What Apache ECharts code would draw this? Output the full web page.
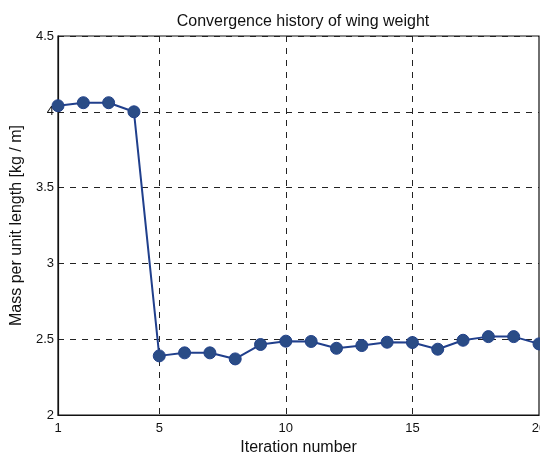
<!DOCTYPE html>
<html>
<head>
<meta charset="utf-8">
<script src="https://cdn.jsdelivr.net/npm/echarts@6/dist/echarts.min.js"></script>
<style>
  html, body { margin: 0; padding: 0; background: #fff; }
  #chart { width: 540px; height: 457px; }
</style>
</head>
<body>
<div id="chart"></div>
<script>
// Iteration numbers and wing mass per unit length at each iteration
const iterations = ['1','2','3','4','5','6','7','8','9','10','11','12','13','14','15','16','17','18','19','20'];
const massPerLength = [4.04, 4.06, 4.06, 4.00, 2.39, 2.41, 2.41, 2.37, 2.465, 2.487, 2.485, 2.44, 2.458, 2.48, 2.478, 2.434, 2.493, 2.517, 2.517, 2.469];
const xTickLabels = ['1', '5', '10', '15', '20'];

const font = 'Liberation Sans, Arial, sans-serif';
const chart = echarts.init(document.getElementById('chart'), null, { renderer: 'canvas' });

chart.setOption({
  animation: false,
  backgroundColor: '#ffffff',
  title: {
    text: 'Convergence history of wing weight',
    left: 298,
    textAlign: 'center',
    top: 9,
    textStyle: { fontFamily: font, fontSize: 16, fontWeight: 'normal', color: '#111' }
  },
  grid: {
    left: 58, right: 1, top: 36, bottom: 42,
    outerBoundsMode: 'none',
    containLabel: false,
    show: true, borderColor: '#111', borderWidth: 1.2, backgroundColor: 'transparent'
  },
  xAxis: {
    type: 'category',
    data: iterations,
    boundaryGap: false,
    name: 'Iteration number',
    nameLocation: 'middle',
    nameGap: 21,
    nameTextStyle: { fontFamily: font, fontSize: 16, color: '#111' },
    axisLine: { show: true, lineStyle: { color: '#111', width: 1.2 } },
    axisTick: { show: false },
    axisLabel: {
      fontFamily: font, fontSize: 13, color: '#111', margin: 7,
      interval: (i, v) => xTickLabels.includes(v),
      showMaxLabel: true,
      hideOverlap: false
    },
    splitLine: {
      show: true,
      interval: (i, v) => xTickLabels.includes(v) && v !== '1' && v !== '20',
      lineStyle: { color: '#222', type: [6, 6], width: 1 }
    }
  },
  yAxis: {
    type: 'value',
    min: 2, max: 4.5, interval: 0.5,
    name: 'Mass per unit length [kg / m]',
    nameLocation: 'middle',
    nameGap: 31,
    nameTextStyle: { fontFamily: font, fontSize: 16, color: '#111' },
    axisLine: { show: true, lineStyle: { color: '#111', width: 1.2 } },
    axisTick: { show: false },
    axisLabel: { fontFamily: font, fontSize: 13, color: '#111', margin: 4 },
    splitLine: {
      show: true,
      lineStyle: { color: '#222', type: [6, 6], width: 1 }
    }
  },
  series: [{
    type: 'line',
    data: massPerLength,
    symbol: 'circle',
    symbolSize: 12,
    showAllSymbol: true,
    clip: false,
    lineStyle: { color: '#203f8c', width: 2 },
    itemStyle: { color: '#2a4c86', borderColor: '#22428a', borderWidth: 1 }
  }]
});
</script>
</body>
</html>
